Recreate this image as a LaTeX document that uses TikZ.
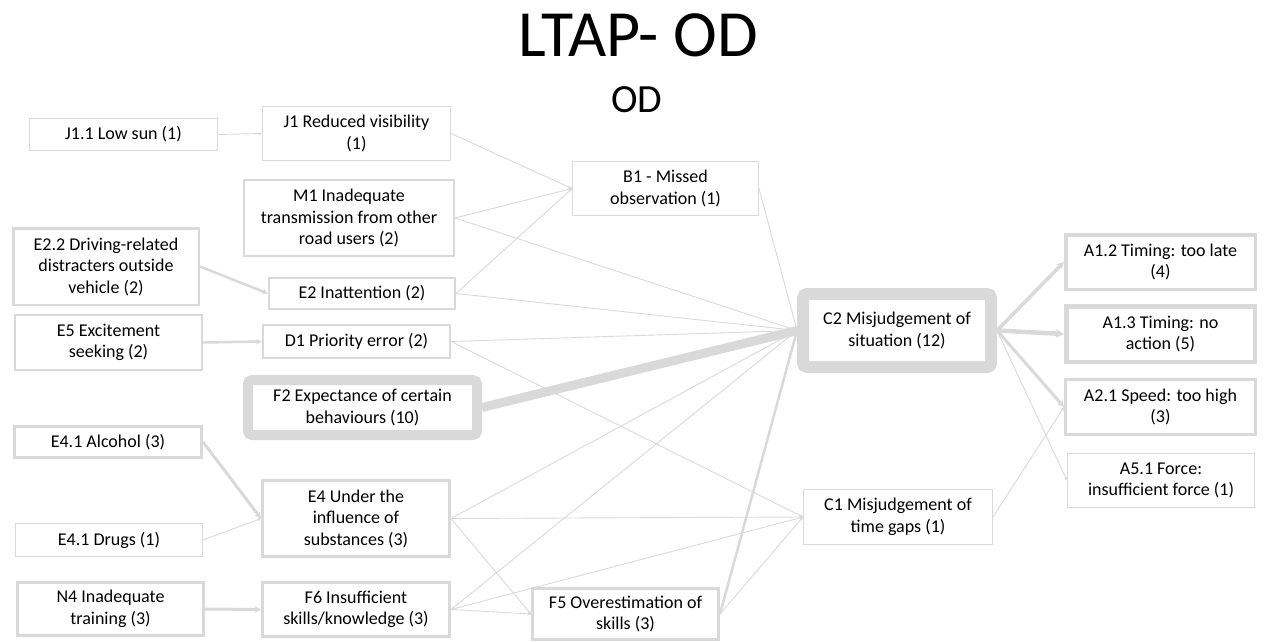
\documentclass[tikz,border=0pt]{standalone}
\usepackage{fontspec}
\setmainfont{Carlito}
\usetikzlibrary{arrows.meta,backgrounds}
\definecolor{linegray}{HTML}{D9D9D9}
\begin{document}
\begin{tikzpicture}[x=1pt,y=-1pt,
  box/.style={draw=linegray, fill=white, align=center, inner sep=0pt,
    font=\fontsize{18}{21.5}\selectfont, text=black},
  heavybox/.style={box, rounded corners=4pt},
  link/.style={draw=linegray, line width=#1, -{Stealth[length=2.5pt 1.3, width=2pt 1.5]}},
  link/.default=0.9pt,
  plainlink/.style={draw=linegray, line width=#1}]
\useasboundingbox (0,0) rectangle (1264,642);

% titles
\node[anchor=base, font=\fontsize{66}{70}\selectfont] (title) at (638,57) {LTAP- OD};
\node[anchor=base, font=\fontsize{40}{44}\selectfont] (subtitle) at (637,113) {OD};

% left column
\node[box, line width=0.9pt, minimum width=188pt, minimum height=32pt] (J11) at (123.5,134.5) {J1.1 Low sun (1)};
\node[box, line width=2.5pt, minimum width=185.5pt, minimum height=76.5pt] (E22) at (106,266.5) {E2.2 Driving-related\\distracters outside\\vehicle (2)};
\node[box, line width=2.2pt, minimum width=187pt, minimum height=55pt] (E5) at (108.5,342.5) {E5 Excitement\\seeking (2)};
\node[box, line width=3pt, minimum width=187pt, minimum height=31pt] (Alc) at (108,442) {E4.1 Alcohol (3)};
\node[box, line width=0.9pt, minimum width=187pt, minimum height=33pt] (Drg) at (109,540) {E4.1 Drugs (1)};
\node[box, line width=3pt, minimum width=186pt, minimum height=53pt] (N4) at (110.5,609) {N4 Inadequate\\training (3)};

% second column
\node[box, line width=0.9pt, minimum width=188pt, minimum height=54pt] (J1) at (356.5,133.5) {J1 Reduced visibility\\(1)};
\node[box, line width=2.2pt, minimum width=210pt, minimum height=76pt] (M1) at (349,218) {M1 Inadequate\\transmission from other\\road users (2)};
\node[box, line width=2.2pt, minimum width=186pt, minimum height=31pt] (E2) at (362,293.5) {E2 Inattention (2)};
\node[box, line width=2.2pt, minimum width=187pt, minimum height=33pt] (D1) at (356.5,341.5) {D1 Priority error (2)};
\node[heavybox, line width=10pt, minimum width=229pt, minimum height=55pt] (F2) at (362.5,407.5) {F2 Expectance of certain\\behaviours (10)};
\node[box, line width=3pt, minimum width=187pt, minimum height=76pt] (E4) at (356,518.5) {E4 Under the\\influence of\\substances (3)};
\node[box, line width=3pt, minimum width=187pt, minimum height=54pt] (F6) at (356,609.5) {F6 Insufficient\\skills/knowledge (3)};

% middle
\node[box, line width=0.9pt, minimum width=186pt, minimum height=54pt] (B1) at (665.5,188.5) {B1 - Missed\\observation (1)};
\node[box, line width=3pt, minimum width=186pt, minimum height=51pt] (F5) at (625.5,614) {F5 Overestimation of\\skills (3)};
\node[heavybox, line width=12pt, minimum width=188pt, minimum height=73pt] (C2) at (897,330.5) {C2 Misjudgement of\\situation (12)};
\node[box, line width=0.9pt, minimum width=189pt, minimum height=55pt] (C1) at (898,517) {C1 Misjudgement of\\time gaps (1)};

% right column
\node[box, line width=3.5pt, minimum width=189.5pt, minimum height=54.5pt] (A12) at (1160.5,262) {A1.2 Timing: too late\\(4)};
\node[box, line width=4.5pt, minimum width=188.5pt, minimum height=55.5pt] (A13) at (1160.5,334) {A1.3 Timing: no\\action (5)};
\node[box, line width=3pt, minimum width=190pt, minimum height=55pt] (A21) at (1160.5,407) {A2.1 Speed: too high\\(3)};
\node[box, line width=0.9pt, minimum width=187pt, minimum height=54pt] (A51) at (1161,480.5) {A5.1 Force:\\insufficient force (1)};

% connectors, kept underneath the boxes
\begin{scope}[on background layer]
\draw[link] (J11.east) -- (J1.west);
\draw[link=2.5pt] (E22.east) -- (E2.west);
\draw[link=2.5pt] (E5.east) -- (D1.west);
\draw[link=3pt] (Alc.east) -- (E4.west);
\draw[link] (Drg.east) -- (E4.west);
\draw[link=3pt] (N4.east) -- (F6.west);

\draw[link] (J1.east) -- (B1.west);
\draw[link] (M1.east) -- (B1.west);
\draw[link] (E2.east) -- (B1.west);

\draw[link] (M1.east) -- (C2.west);
\draw[link] (E2.east) -- (C2.west);
\draw[link] (D1.east) -- (C2.west);
\draw[plainlink=9pt] (F2.east) -- (C2.west);
\draw[link] (E4.east) -- (C2.west);
\draw[link] (F6.east) -- (C2.west);
\draw[link=2.5pt] (F5.east) -- (C2.west);
\draw[link] (B1.east) -- (C2.west);

\draw[link] (D1.east) -- (C1.west);
\draw[link] (E4.east) -- (C1.west);
\draw[link] (F6.east) -- (C1.west);
\draw[link] (F5.east) -- (C1.west);

\draw[link] (E4.east) -- (F5.west);
\draw[link] (F6.east) -- (F5.west);

\draw[link=3.5pt] (C2.east) -- (A12.west);
\draw[link=4.5pt] (C2.east) -- (A13.west);
\draw[link=3pt] (C2.east) -- (A21.west);
\draw[link] (C2.east) -- (A51.west);
\draw[link] (C1.east) -- (A21.west);
\end{scope}
\end{tikzpicture}
\end{document}
